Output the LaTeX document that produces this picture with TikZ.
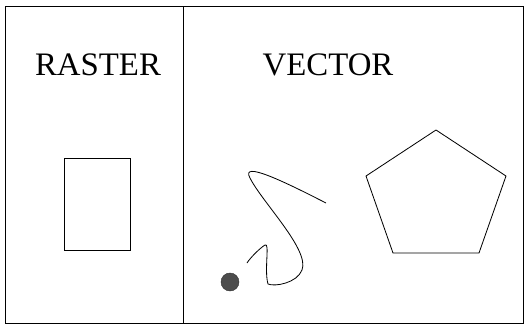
\documentclass[tikz,border=0pt]{standalone}
\usepackage{fontspec}
\setmainfont{Liberation Serif}
\begin{document}
\begin{tikzpicture}[
    x=0.03cm, y=-0.03cm,
    frame/.style={draw, line width=0.6pt},
    title/.style={font=\fontsize{28}{34}\selectfont, inner sep=0pt},
    outline/.style={draw, line width=0.7pt},
    blob/.style={fill=black!70, draw=black!80, line width=0.4pt}
  ]
  \useasboundingbox (0,0) rectangle (524,326);
  % frame and divider
  \draw[frame] (5,6) rectangle (523,323);
  \draw[frame] (183,6) -- (183,323);

  \node[title] (raster) at (98,65) {RASTER};
  \node[title] (vector) at (328,65) {VECTOR};

  % raster side
  \draw[outline] (64,158) rectangle (130,250);

  % vector side
  \draw[outline] (326,203) .. controls (285,182) and (240,160) .. (250,178)
    .. controls (262,202) and (310,250) .. (302,270)
    .. controls (297,283) and (275,287) .. (268,284)
    .. controls (264,270) and (270,242) .. (265,245)
    .. controls (260,248) and (250,258) .. (247,263);
  \fill[blob] (230,282) circle (9);
  \draw[outline] (436,130) -- (506,176) -- (479,253) -- (393,253)
    -- (366,176) -- cycle;
\end{tikzpicture}
\end{document}
